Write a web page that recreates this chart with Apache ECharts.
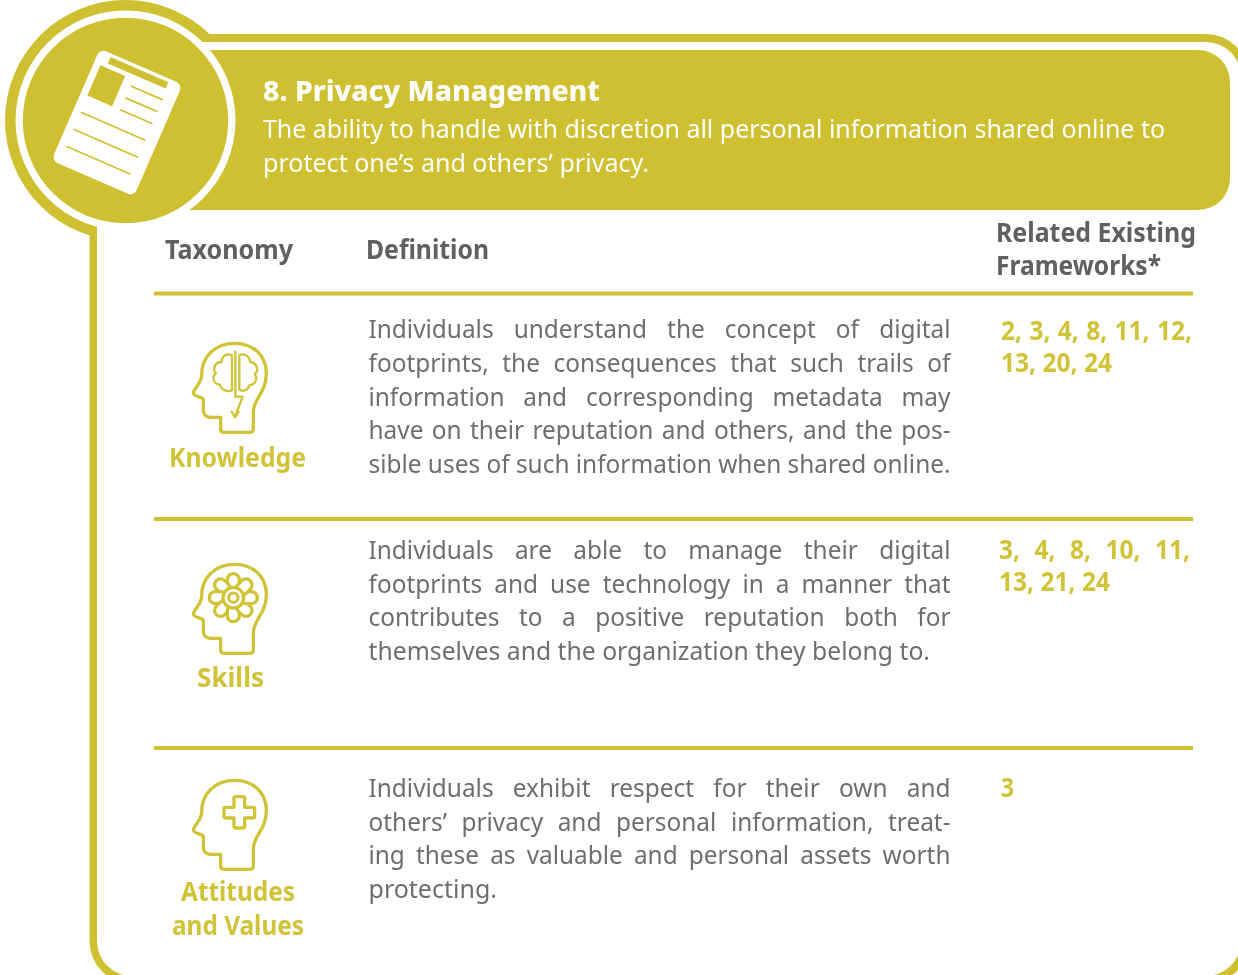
<!DOCTYPE html>
<html>
<head>
<meta charset="utf-8">
<style>html,body{margin:0;padding:0;background:#fff}#c{width:1238px;height:975px}</style>
<script src="https://cdn.jsdelivr.net/npm/echarts@6/dist/echarts.min.js"></script>
</head>
<body>
<div id="c"></div>
<script>
// ---- content ----
const titleText = "8. Privacy Management";
const introLines = [
  "The ability to handle with discretion all personal information shared online to",
  "protect one’s and others’ privacy."
];
const columnHeaders = ["Taxonomy", "Definition", "Related Existing", "Frameworks*"];
const categoryLabels = ["Knowledge", "Skills", "Attitudes", "and Values"];
const knowledgeLines = [
  "Individuals understand the concept of digital",
  "footprints, the consequences that such trails of",
  "information and corresponding metadata may",
  "have on their reputation and others, and the pos-",
  "sible uses of such information when shared online."
];
const skillsLines = [
  "Individuals are able to manage their digital",
  "footprints and use technology in a manner that",
  "contributes to a positive reputation both for",
  "themselves and the organization they belong to."
];
const attitudesLines = [
  "Individuals exhibit respect for their own and",
  "others’ privacy and personal information, treat-",
  "ing these as valuable and personal assets worth",
  "protecting."
];
const knowledgeFrameworks = ["2, 3, 4, 8, 11, 12,", "13, 20, 24"];
const skillsFrameworks = ["3, 4, 8, 10, 11,", "13, 21, 24"];
const attitudesFrameworks = ["3"];

// ---- styling ----
const GOLD = "#CEC031", GOLDTXT = "#D1C338", GREY = "#606060", BODY = "#6E6E6E", WHITE = "#ffffff";
const FAMILY = "'Noto Sans', sans-serif";
const F_BODY = `400 25.5px ${FAMILY}`;
const F_BOLD = `700 26px ${FAMILY}`;
const F_TITLE = `800 29px ${FAMILY}`;
const F_INTRO = `400 26px ${FAMILY}`;
const TEXT_DY = 2;

const mctx = document.createElement("canvas").getContext("2d");
function tw(s, font) { mctx.font = font; return mctx.measureText(s).width; }

const els = [];
function word(s, x, y, font, fill, sx) {
  return { type: "text", x: x, y: y + TEXT_DY, scaleX: sx, silent: true,
    style: { text: s, x: 0, y: 0, font: font, fill: fill, verticalAlign: "middle", align: "left" } };
}
function fitted(s, x, endX, y, font, fill) {
  els.push(word(s, x, y, font, fill, (endX - x) / tw(s, font)));
}
function justified(s, x, endX, y, font, fill, sx) {
  const ws = s.split(" ");
  const widths = ws.map(w => tw(w, font) * sx);
  const gap = ws.length > 1 ? (endX - x - widths.reduce((a, b) => a + b, 0)) / (ws.length - 1) : 0;
  let cx = x;
  ws.forEach((w, i) => { els.push(word(w, cx, y, font, fill, sx)); cx += widths[i] + gap; });
}

// ---- frame ----
const CX = 125.5, CY = 120.5;
function circle(r, fill) { return { type: "circle", silent: true, shape: { cx: CX, cy: CY, r: r }, style: { fill: fill } }; }
function rrect(x, y, w, h, r, fill) { return { type: "rect", silent: true, shape: { x, y, width: w, height: h, r }, style: { fill } }; }

els.push(circle(120.5, GOLD));
els.push(rrect(89.5, 34, 1159.5, 950, 43, GOLD));
els.push(rrect(97, 42, 1144, 934, 35, WHITE));
els.push(rrect(150, 50, 1080, 160, [0, 32, 32, 0], GOLD));
els.push(circle(110, WHITE));
els.push(circle(102.7, GOLD));

// ---- newspaper icon ----
function line(x1, y1, x2, y2) {
  return { type: "line", silent: true, shape: { x1, y1, x2, y2 }, style: { stroke: GOLD, lineWidth: 1.7 } };
}
els.push({
  type: "group", x: 117, y: 122.5, rotation: -23.5 * Math.PI / 180, silent: true,
  children: [
    rrect(-45, -61, 90, 122, 7, WHITE),
    rrect(-32, -57.5, 63, 7, 0, GOLD),
    rrect(-38, -46, 27, 33, 0, GOLD),
    line(-2, -39, 33, -39), line(-2, -26, 33, -26), line(-2, -13, 33, -13),
    line(-37, 5, 33, 5), line(-37, 23.5, 33, 23.5), line(-37, 42, 33, 42)
  ]
});

// ---- head icons (local units are thirds of a pixel) ----
const iconPaths = {
  headOutline: "M182 262 L182 297 Q182 307 192 307 L270 307 Q280 307 280 297 L280 245 C280 205 319 190 319 130 C319 75 278 40 225 40 C165 40 125 80 125 135 C125 162 100 175 100 190 C100 198 122 200 130 207 L130 240 C130 255 140 262 152 262 Z",
  brainLeft: "M216 76 C200 68 184 78 185 96 C164 96 156 118 168 130 C154 142 160 162 180 164 C183 181 205 188 216 180 Z",
  brainRight: "M238 76 C250 68 270 78 270 96 C295 100 296 124 284 131 C296 150 282 165 268 166 C265 182 246 186 238 178 Z",
  brainArrow: "M226 65 L226 200 L248 200 L226 258",
  arrowHead: "M215 245 L225 262 L236 245",
  plus: "M222 94 Q222 89 227 89 L249 89 Q254 89 254 94 L254 121 L279 121 Q284 121 284 126 L284 148 Q284 153 279 153 L254 153 L254 178 Q254 183 249 183 L227 183 Q222 183 222 178 L222 153 L197 153 Q192 153 192 148 L192 126 Q192 121 197 121 L222 121 Z"
};
Object.keys(iconPaths).forEach(k => echarts.graphic.registerShape(k, echarts.graphic.extendPath(iconPaths[k], {})));

function pth(name, lw) {
  return { type: name, silent: true,
    style: { stroke: GOLDTXT, lineWidth: lw, fill: null, lineJoin: "round", lineCap: "round" } };
}
function head(x, y, extra) {
  els.push({ type: "group", x, y, scaleX: 1 / 3, scaleY: 1 / 3, silent: true,
    children: [pth("headOutline", 10)].concat(extra) });
}
head(160, 330, [pth("brainLeft", 7), pth("brainRight", 7), pth("brainArrow", 7), pth("arrowHead", 7)]);
const petals = [];
for (let i = 0; i < 8; i++) {
  petals.push({ type: "rect", silent: true, x: 220, y: 140, rotation: i * Math.PI / 4,
    shape: { x: -18, y: -72, width: 36, height: 52, r: 18 },
    style: { stroke: GOLDTXT, lineWidth: 10, fill: WHITE } });
}
head(160, 551, petals.concat([
  { type: "circle", silent: true, shape: { cx: 220, cy: 140, r: 31 }, style: { stroke: GOLDTXT, lineWidth: 10, fill: WHITE } },
  { type: "circle", silent: true, shape: { cx: 220, cy: 140, r: 14 }, style: { stroke: GOLDTXT, lineWidth: 9, fill: WHITE } }
]));
head(160, 767, [pth("plus", 10)]);

// ---- banner text ----
fitted(titleText, 263, 600, 91, F_TITLE, WHITE);
fitted(introLines[0], 263, 1165, 129, F_INTRO, WHITE);
fitted(introLines[1], 263, 649, 163, F_INTRO, WHITE);

// ---- column headers ----
fitted(columnHeaders[0], 165, 293, 250, F_BOLD, GREY);
fitted(columnHeaders[1], 366, 489, 250, F_BOLD, GREY);
fitted(columnHeaders[2], 996, 1196, 233, F_BOLD, GREY);
fitted(columnHeaders[3], 996, 1161, 266, F_BOLD, GREY);

// ---- rules ----
[293.5, 519, 748].forEach(y => els.push(rrect(154, y - 2, 1039, 4, 0, GOLD)));

// ---- category labels ----
fitted(categoryLabels[0], 169, 306, 458, F_BOLD, GOLDTXT);
fitted(categoryLabels[1], 197, 264, 678, F_BOLD, GOLDTXT);
fitted(categoryLabels[2], 181, 295, 892, F_BOLD, GOLDTXT);
fitted(categoryLabels[3], 172, 304, 926, F_BOLD, GOLDTXT);

// ---- definitions ----
const DX = 368.5, DR = 950.5;
const bodyScale = (DR - DX) / tw(knowledgeLines[4], F_BODY);
[329, 363, 397, 430, 464].forEach((y, i) => justified(knowledgeLines[i], DX, DR, y, F_BODY, BODY, bodyScale));
[550, 584, 617].forEach((y, i) => justified(skillsLines[i], DX, DR, y, F_BODY, BODY, bodyScale));
fitted(skillsLines[3], DX, 930, 651, F_BODY, BODY);
[788, 822, 855].forEach((y, i) => justified(attitudesLines[i], DX, DR, y, F_BODY, BODY, bodyScale));
fitted(attitudesLines[3], DX, 497, 889, F_BODY, BODY);

// ---- frameworks ----
const frameScale = (1112 - 1001) / tw(knowledgeFrameworks[1], F_BOLD);
justified(knowledgeFrameworks[0], 1001, 1192, 331, F_BOLD, GOLDTXT, frameScale);
fitted(knowledgeFrameworks[1], 1001, 1112, 363, F_BOLD, GOLDTXT);
justified(skillsFrameworks[0], 999, 1190, 550, F_BOLD, GOLDTXT, frameScale);
fitted(skillsFrameworks[1], 999, 1110, 582, F_BOLD, GOLDTXT);
fitted(attitudesFrameworks[0], 1001, 1014, 788, F_BOLD, GOLDTXT);

const chart = echarts.init(document.getElementById("c"), null, { renderer: "canvas" });
chart.setOption({ animation: false, backgroundColor: "#fff", graphic: { elements: els } });
</script>
</body>
</html>
